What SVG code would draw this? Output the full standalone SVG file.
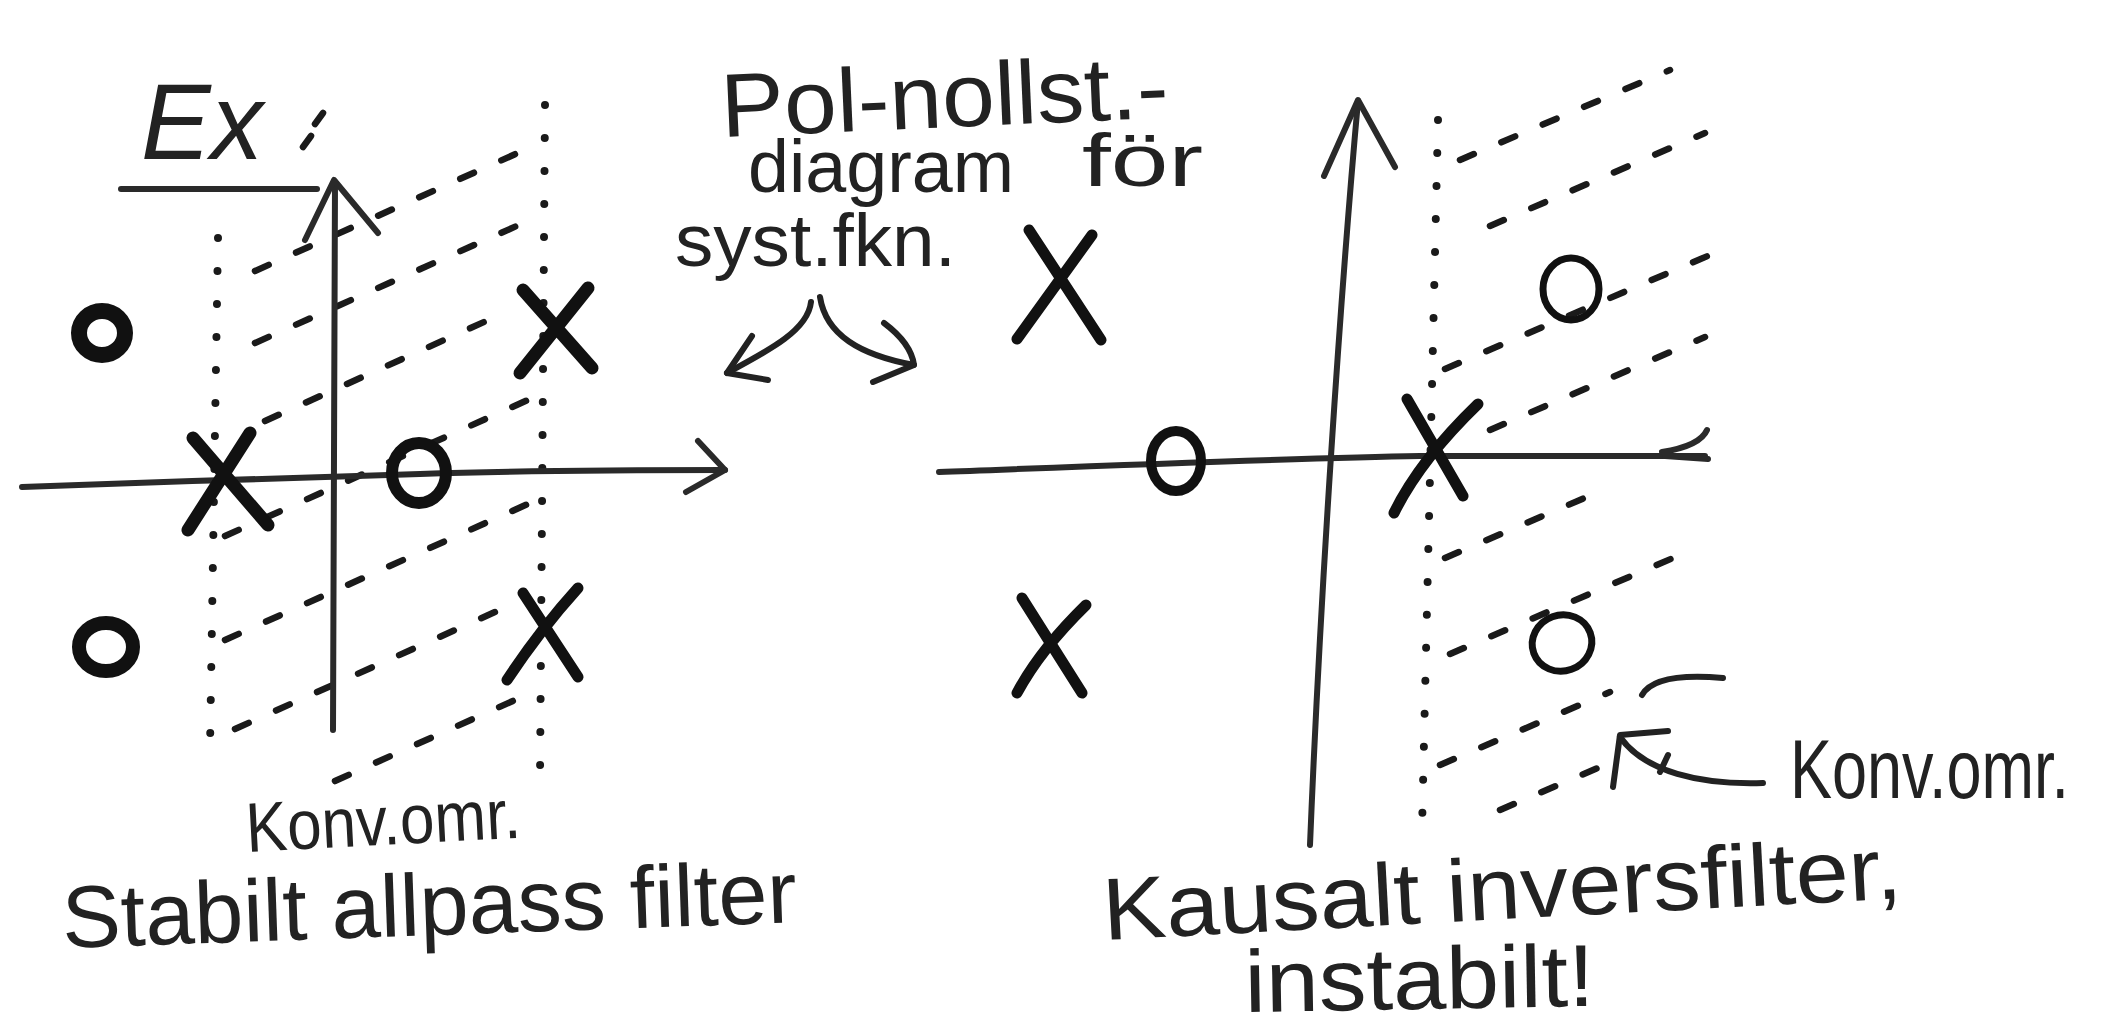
<svg xmlns="http://www.w3.org/2000/svg" width="2103" height="1029" viewBox="0 0 2103 1029">
<style>
.bg{fill:#ffffff}
.axis{fill:none;stroke:#2a2a2a;stroke-width:6;stroke-linecap:round;stroke-linejoin:round}
.pole{fill:none;stroke:#111;stroke-width:13;stroke-linecap:round}
.pole2{fill:none;stroke:#111;stroke-width:11;stroke-linecap:round}
.zero{fill:none;stroke:#111}
.dots{fill:none;stroke:#1a1a1a;stroke-width:8;stroke-linecap:round;stroke-dasharray:0 33}
.hatch{fill:none;stroke:#1a1a1a;stroke-width:6.5;stroke-linecap:round;stroke-dasharray:15 30}
.pen{fill:none;stroke:#222;stroke-width:6;stroke-linecap:round;stroke-linejoin:round}
.hand{font-family:"Liberation Sans","DejaVu Sans",sans-serif;fill:#222}
</style>
<rect class="bg" x="0" y="0" width="2103" height="1029"/>

<g id="left-plane">
  <g id="left-region">
    <path class="dots" d="M218,238 L210,748"/>
    <path class="dots" d="M545,105 L540,778"/>
    <path class="hatch" d="M303,147 L311,136 M315,124 L323,113"/>
    <path class="hatch" d="M255,271 L520,152"/>
    <path class="hatch" d="M255,343 L530,220"/>
    <path class="hatch" d="M265,421 L495,317"/>
    <path class="hatch" d="M225,536 L530,399"/>
    <path class="hatch" d="M225,640 L530,503"/>
    <path class="hatch" d="M235,729 L515,603"/>
    <path class="hatch" d="M335,781 L515,700"/>
  </g>
  <g id="left-axes">
    <path class="axis" d="M22,487 C150,482 300,478 420,474 S650,470 725,470"/>
    <path class="axis" d="M698,441 L725,470 L686,492"/>
    <path class="axis" d="M333,730 L335,182"/>
    <path class="axis" d="M305,240 L334,180 L378,233"/>
  </g>
  <g id="left-pole-origin"><path class="pole" d="M188,530 L250,433 M193,438 L268,525"/></g>
  <g id="left-zero-axis"><ellipse class="zero" cx="419" cy="473" rx="27" ry="30" stroke-width="12"/></g>
  <g id="left-pole-upper"><path class="pole" d="M520,373 L588,288 M523,290 L592,368"/></g>
  <g id="left-pole-lower"><path class="pole2" d="M507,680 Q540,630 578,588 M523,593 L578,677"/></g>
  <g id="left-zero-upper"><ellipse class="zero" cx="102" cy="333" rx="23" ry="22" stroke-width="16"/></g>
  <g id="left-zero-lower"><ellipse class="zero" cx="106" cy="647" rx="27" ry="24" stroke-width="14"/></g>
</g>

<g id="right-plane">
  <g id="right-region">
    <path class="dots" d="M1438,120 L1422,830"/>
    <path class="hatch" d="M1460,160 L1670,70"/>
    <path class="hatch" d="M1490,226 L1705,133"/>
    <path class="hatch" d="M1445,369 L1710,255"/>
    <path class="hatch" d="M1490,430 L1705,337"/>
    <path class="hatch" d="M1445,558 L1610,487"/>
    <path class="hatch" d="M1450,654 L1680,555"/>
    <path class="hatch" d="M1440,765 L1610,692"/>
    <path class="hatch" d="M1500,810 L1600,767"/>
    <path class="pen" d="M1642,695 Q1655,672 1723,678"/>
  </g>
  <g id="right-axes">
    <path class="axis" d="M939,472 C1100,466 1300,458 1420,456 L1705,456"/>
    <path class="axis" d="M1662,452 Q1700,446 1707,430 M1665,456 L1708,459"/>
    <path class="axis" d="M1310,845 C1320,600 1340,300 1358,101"/>
    <path class="axis" d="M1324,176 L1358,100 L1395,167"/>
  </g>
  <g id="right-pole-upper"><path class="pole2" d="M1029,230 L1101,340 M1092,235 L1017,339"/></g>
  <g id="right-pole-lower"><path class="pole2" d="M1022,598 L1082,693 M1086,605 Q1040,650 1017,693"/></g>
  <g id="right-pole-axis"><path class="pole2" d="M1407,399 L1463,496 M1478,404 Q1420,460 1394,513" stroke-width="10"/></g>
  <g id="right-zero-axis"><ellipse class="zero" cx="1176" cy="461" rx="25" ry="30" stroke-width="10"/></g>
  <g id="right-zero-upper"><ellipse class="zero" cx="1571" cy="289" rx="28" ry="31" stroke-width="7"/></g>
  <g id="right-zero-lower"><ellipse class="zero" cx="1562" cy="643" rx="30" ry="28" stroke-width="7" transform="rotate(-20 1562 643)"/></g>
</g>

<g id="connectors">
  <path class="pen" d="M811,302 C808,330 770,350 727,373"/>
  <path class="pen" d="M752,336 L727,373 L768,380"/>
  <path class="pen" d="M820,297 C826,335 860,355 914,365"/>
  <path class="pen" d="M884,323 C900,335 912,350 914,365 L873,382"/>
  <path class="pen" d="M1763,783 C1700,785 1645,772 1620,737"/>
  <path class="pen" d="M1668,731 L1620,735 L1613,787"/>
  <path class="pen" d="M1668,755 L1660,772"/>
</g>

<g id="labels">
  <g id="label-ex">
    <text class="hand" x="141" y="159" font-size="108" font-style="italic" textLength="122" lengthAdjust="spacingAndGlyphs">Ex</text>
    <path class="axis" d="M121,189 L317,189"/>
  </g>
  <g id="label-title">
    <text class="hand" x="722" y="137" font-size="90" textLength="448" lengthAdjust="spacingAndGlyphs" transform="rotate(-2.5 722 137)">Pol-nollst.-</text>
    <text class="hand" font-size="74"><tspan x="748" y="192" textLength="266" lengthAdjust="spacingAndGlyphs">diagram</tspan><tspan x="1082" y="186" textLength="121" lengthAdjust="spacingAndGlyphs">för</tspan></text>
    <text class="hand" x="675" y="266" font-size="74" textLength="281" lengthAdjust="spacingAndGlyphs">syst.fkn.</text>
  </g>
  <g id="label-left">
    <text class="hand" x="247" y="852" font-size="70" textLength="275" lengthAdjust="spacingAndGlyphs" transform="rotate(-3 247 852)">Konv.omr.</text>
    <text class="hand" x="63" y="948" font-size="88" textLength="735" lengthAdjust="spacingAndGlyphs" transform="rotate(-2 63 948)">Stabilt allpass filter</text>
  </g>
  <g id="label-right">
    <text class="hand" x="0" y="0" font-size="84" transform="translate(1790 798) scale(0.75 1)">Konv.omr.</text>
    <text class="hand" x="1104" y="940" font-size="88" textLength="800" lengthAdjust="spacingAndGlyphs" transform="rotate(-3 1104 940)">Kausalt inversfilter,</text>
    <text class="hand" x="1245" y="1012" font-size="88" textLength="350" lengthAdjust="spacingAndGlyphs" transform="rotate(-1 1245 1012)">instabilt!</text>
  </g>
</g>
</svg>
